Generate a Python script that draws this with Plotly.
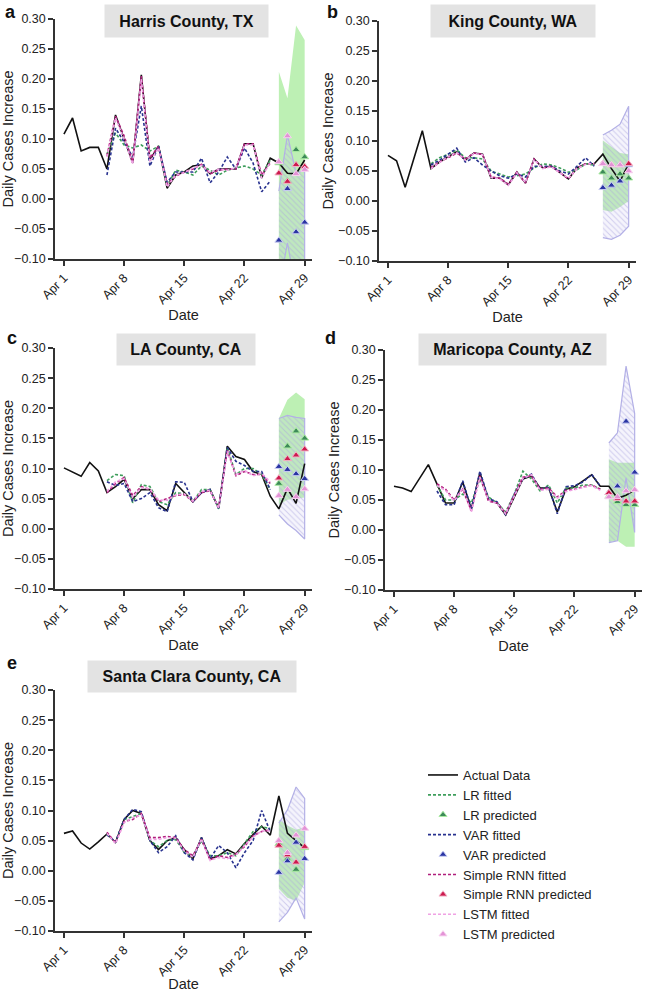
import pandas as pd
import plotly.graph_objects as go

# ---------------- data ----------------
dates = [f"2020-04-{d:02d}" for d in range(1, 30)]
fit_dates = dates[5:25]      # Apr 6 - Apr 25
pred_dates = dates[25:]      # Apr 26 - Apr 29

tick_vals = ["2020-04-01", "2020-04-08", "2020-04-15", "2020-04-22", "2020-04-29"]
tick_text = ["Apr 1", "Apr 8", "Apr 15", "Apr 22", "Apr 29"]
y_tick_vals = [-0.10, -0.05, 0.00, 0.05, 0.10, 0.15, 0.20, 0.25, 0.30]

panel_titles = ["Harris County, TX", "King County, WA", "LA County, CA",
                "Maricopa County, AZ", "Santa Clara County, CA"]
panel_letters = ["a", "b", "c", "d", "e"]

# Harris County, TX
harris_actual = [0.108, 0.135, 0.080, 0.086, 0.086, 0.050, 0.140, 0.100, 0.060, 0.207,
                 0.065, 0.088, 0.018, 0.040, 0.045, 0.055, 0.057, 0.042, 0.050, 0.050,
                 0.050, 0.092, 0.092, 0.035, 0.068, 0.060, 0.043, 0.042, 0.065]
harris_lr_fit = [0.075, 0.110, 0.090, 0.085, 0.090, 0.080, 0.088, 0.022, 0.048, 0.045,
                 0.040, 0.055, 0.048, 0.040, 0.048, 0.052, 0.055, 0.050, 0.040, 0.065]
harris_var_fit = [0.040, 0.118, 0.095, 0.070, 0.155, 0.055, 0.088, 0.028, 0.045, 0.045,
                  0.045, 0.068, 0.027, 0.045, 0.070, 0.050, 0.085, 0.060, 0.012, 0.030]
harris_rnn_fit = [0.072, 0.138, 0.105, 0.062, 0.205, 0.068, 0.088, 0.025, 0.038, 0.045,
                  0.050, 0.058, 0.042, 0.048, 0.050, 0.050, 0.092, 0.092, 0.040, 0.060]
harris_lstm_fit = [0.070, 0.135, 0.100, 0.058, 0.200, 0.062, 0.085, 0.020, 0.040, 0.044,
                   0.052, 0.056, 0.044, 0.050, 0.048, 0.052, 0.090, 0.090, 0.035, 0.062]
harris_lr_pred = [0.060, 0.030, 0.082, 0.070]
harris_var_pred = [-0.069, 0.017, -0.055, -0.039]
harris_rnn_pred = [0.043, 0.029, 0.057, 0.054]
harris_lstm_pred = [0.062, 0.105, 0.042, 0.049]
harris_lr_upper = [0.212, 0.168, 0.289, 0.265]
harris_lr_lower = [-0.130, -0.150, -0.130, -0.140]
harris_var_upper = [0.013, 0.107, 0.043, 0.048]
harris_var_lower = [-0.151, -0.073, -0.153, -0.126]

# King County, WA
king_actual = [0.076, 0.067, 0.023, 0.070, 0.117, 0.054, 0.065, 0.074, 0.082, 0.068,
               0.080, 0.078, 0.038, 0.038, 0.027, 0.048, 0.030, 0.070, 0.055, 0.058,
               0.047, 0.037, 0.055, 0.062, 0.062, 0.078, 0.054, 0.033, 0.062]
king_lr_fit = [0.062, 0.072, 0.078, 0.085, 0.072, 0.072, 0.070, 0.050, 0.045, 0.040,
               0.042, 0.045, 0.055, 0.062, 0.060, 0.055, 0.048, 0.052, 0.062, 0.060]
king_var_fit = [0.060, 0.068, 0.078, 0.088, 0.065, 0.072, 0.060, 0.050, 0.042, 0.038,
                0.045, 0.040, 0.058, 0.058, 0.058, 0.050, 0.045, 0.058, 0.072, 0.058]
king_rnn_fit = [0.056, 0.065, 0.072, 0.080, 0.070, 0.080, 0.078, 0.040, 0.038, 0.028,
                0.048, 0.030, 0.070, 0.055, 0.058, 0.048, 0.037, 0.055, 0.062, 0.062]
king_lstm_fit = [0.054, 0.064, 0.074, 0.081, 0.068, 0.079, 0.077, 0.039, 0.037, 0.026,
                 0.047, 0.031, 0.069, 0.054, 0.057, 0.047, 0.038, 0.054, 0.061, 0.063]
king_lr_pred = [0.048, 0.038, 0.045, 0.038]
king_var_pred = [0.022, 0.026, 0.033, 0.060]
king_rnn_pred = [0.062, 0.060, 0.060, 0.062]
king_lstm_pred = [0.062, 0.060, 0.060, 0.050]
king_lr_upper = [0.101, 0.090, 0.080, 0.078]
king_lr_lower = [-0.015, -0.018, -0.010, 0.000]
king_var_upper = [0.110, 0.118, 0.128, 0.158]
king_var_lower = [-0.061, -0.064, -0.057, -0.042]

# LA County, CA
la_actual = [0.101, 0.094, 0.087, 0.110, 0.096, 0.060, 0.070, 0.082, 0.050, 0.065,
             0.065, 0.040, 0.030, 0.075, 0.060, 0.045, 0.060, 0.065, 0.034, 0.137,
             0.120, 0.115, 0.095, 0.090, 0.054, 0.033, 0.067, 0.042, 0.108]
la_lr_fit = [0.080, 0.090, 0.088, 0.043, 0.073, 0.070, 0.045, 0.040, 0.060, 0.058,
             0.045, 0.065, 0.065, 0.033, 0.135, 0.090, 0.100, 0.100, 0.090, 0.065]
la_var_fit = [0.078, 0.072, 0.075, 0.045, 0.050, 0.060, 0.035, 0.028, 0.078, 0.077,
              0.045, 0.060, 0.065, 0.033, 0.135, 0.112, 0.105, 0.095, 0.095, 0.065]
la_rnn_fit = [0.060, 0.075, 0.085, 0.055, 0.070, 0.065, 0.045, 0.050, 0.055, 0.057,
              0.045, 0.060, 0.063, 0.035, 0.130, 0.088, 0.095, 0.090, 0.090, 0.075]
la_lstm_fit = [0.062, 0.078, 0.083, 0.052, 0.068, 0.066, 0.048, 0.047, 0.056, 0.058,
               0.046, 0.062, 0.064, 0.034, 0.128, 0.090, 0.097, 0.088, 0.092, 0.078]
la_lr_pred = [0.075, 0.137, 0.162, 0.150]
la_var_pred = [0.103, 0.098, 0.091, 0.083]
la_rnn_pred = [0.084, 0.116, 0.122, 0.132]
la_lstm_pred = [0.055, 0.065, 0.053, 0.066]
la_lr_upper = [0.183, 0.214, 0.226, 0.215]
la_lr_lower = [0.040, 0.048, 0.050, 0.052]
la_var_upper = [0.183, 0.188, 0.185, 0.183]
la_var_lower = [0.023, 0.008, -0.003, -0.017]

# Maricopa County, AZ
maricopa_actual = [0.073, 0.070, 0.064, 0.087, 0.109, 0.077, 0.045, 0.045, 0.080, 0.035,
                   0.095, 0.050, 0.045, 0.025, 0.055, 0.085, 0.090, 0.070, 0.070, 0.030,
                   0.068, 0.072, 0.082, 0.092, 0.073, 0.073, 0.053, 0.058, 0.067]
maricopa_lr_fit = [0.075, 0.050, 0.050, 0.060, 0.045, 0.085, 0.055, 0.045, 0.030, 0.060,
                   0.098, 0.085, 0.065, 0.075, 0.045, 0.070, 0.070, 0.075, 0.075, 0.068]
maricopa_var_fit = [0.065, 0.042, 0.042, 0.082, 0.035, 0.098, 0.052, 0.047, 0.025, 0.060,
                    0.085, 0.093, 0.068, 0.072, 0.027, 0.072, 0.074, 0.080, 0.093, 0.073]
maricopa_rnn_fit = [0.077, 0.068, 0.050, 0.068, 0.032, 0.090, 0.048, 0.045, 0.028, 0.058,
                    0.088, 0.090, 0.068, 0.070, 0.055, 0.066, 0.068, 0.072, 0.075, 0.068]
maricopa_lstm_fit = [0.074, 0.066, 0.048, 0.070, 0.030, 0.088, 0.050, 0.044, 0.027, 0.057,
                     0.086, 0.092, 0.066, 0.068, 0.053, 0.064, 0.067, 0.070, 0.074, 0.066]
maricopa_lr_pred = [0.056, 0.047, 0.042, 0.042]
maricopa_var_pred = [0.062, 0.073, 0.181, 0.096]
maricopa_rnn_pred = [0.062, 0.052, 0.048, 0.048]
maricopa_lstm_pred = [0.055, 0.055, 0.065, 0.067]
maricopa_lr_upper = [0.118, 0.112, 0.112, 0.112]
maricopa_lr_lower = [-0.020, -0.018, -0.028, -0.028]
maricopa_var_upper = [0.145, 0.162, 0.273, 0.194]
maricopa_var_lower = [-0.021, -0.018, 0.087, -0.004]

# Santa Clara County, CA
santaclara_actual = [0.062, 0.066, 0.046, 0.036, 0.048, 0.061, 0.047, 0.085, 0.100, 0.095,
                     0.050, 0.035, 0.050, 0.055, 0.035, 0.020, 0.055, 0.020, 0.025, 0.035,
                     0.028, 0.045, 0.060, 0.074, 0.059, 0.124, 0.062, 0.050, 0.038]
santaclara_lr_fit = [0.060, 0.048, 0.085, 0.090, 0.095, 0.050, 0.040, 0.050, 0.052, 0.030,
                     0.025, 0.050, 0.025, 0.025, 0.030, 0.025, 0.045, 0.065, 0.073, 0.070]
santaclara_var_fit = [0.060, 0.048, 0.085, 0.102, 0.098, 0.050, 0.030, 0.040, 0.058, 0.030,
                      0.018, 0.055, 0.020, 0.042, 0.030, 0.005, 0.030, 0.050, 0.100, 0.065]
santaclara_rnn_fit = [0.064, 0.046, 0.082, 0.085, 0.095, 0.055, 0.055, 0.057, 0.055, 0.035,
                      0.025, 0.052, 0.018, 0.025, 0.022, 0.028, 0.040, 0.058, 0.065, 0.068]
santaclara_lstm_fit = [0.062, 0.045, 0.080, 0.088, 0.093, 0.052, 0.052, 0.055, 0.054, 0.033,
                       0.022, 0.053, 0.017, 0.022, 0.020, 0.026, 0.042, 0.056, 0.066, 0.066]
santaclara_lr_pred = [0.045, 0.020, 0.002, 0.038]
santaclara_var_pred = [-0.003, 0.016, 0.047, 0.020]
santaclara_rnn_pred = [0.042, 0.026, 0.014, 0.040]
santaclara_lstm_pred = [0.050, 0.030, 0.059, 0.070]
santaclara_lr_upper = [0.085, 0.075, 0.068, 0.072]
santaclara_lr_lower = [-0.030, -0.045, -0.050, -0.020]
santaclara_var_upper = [0.079, 0.101, 0.139, 0.120]
santaclara_var_lower = [-0.085, -0.069, -0.045, -0.080]

counties = [
    dict(actual=harris_actual, lr_fit=harris_lr_fit, var_fit=harris_var_fit,
         rnn_fit=harris_rnn_fit, lstm_fit=harris_lstm_fit, lr_pred=harris_lr_pred,
         var_pred=harris_var_pred, rnn_pred=harris_rnn_pred, lstm_pred=harris_lstm_pred,
         lr_up=harris_lr_upper, lr_lo=harris_lr_lower, var_up=harris_var_upper, var_lo=harris_var_lower),
    dict(actual=king_actual, lr_fit=king_lr_fit, var_fit=king_var_fit,
         rnn_fit=king_rnn_fit, lstm_fit=king_lstm_fit, lr_pred=king_lr_pred,
         var_pred=king_var_pred, rnn_pred=king_rnn_pred, lstm_pred=king_lstm_pred,
         lr_up=king_lr_upper, lr_lo=king_lr_lower, var_up=king_var_upper, var_lo=king_var_lower),
    dict(actual=la_actual, lr_fit=la_lr_fit, var_fit=la_var_fit,
         rnn_fit=la_rnn_fit, lstm_fit=la_lstm_fit, lr_pred=la_lr_pred,
         var_pred=la_var_pred, rnn_pred=la_rnn_pred, lstm_pred=la_lstm_pred,
         lr_up=la_lr_upper, lr_lo=la_lr_lower, var_up=la_var_upper, var_lo=la_var_lower),
    dict(actual=maricopa_actual, lr_fit=maricopa_lr_fit, var_fit=maricopa_var_fit,
         rnn_fit=maricopa_rnn_fit, lstm_fit=maricopa_lstm_fit, lr_pred=maricopa_lr_pred,
         var_pred=maricopa_var_pred, rnn_pred=maricopa_rnn_pred, lstm_pred=maricopa_lstm_pred,
         lr_up=maricopa_lr_upper, lr_lo=maricopa_lr_lower, var_up=maricopa_var_upper, var_lo=maricopa_var_lower),
    dict(actual=santaclara_actual, lr_fit=santaclara_lr_fit, var_fit=santaclara_var_fit,
         rnn_fit=santaclara_rnn_fit, lstm_fit=santaclara_lstm_fit, lr_pred=santaclara_lr_pred,
         var_pred=santaclara_var_pred, rnn_pred=santaclara_rnn_pred, lstm_pred=santaclara_lstm_pred,
         lr_up=santaclara_lr_upper, lr_lo=santaclara_lr_lower, var_up=santaclara_var_upper, var_lo=santaclara_var_lower),
]

# ---------------- layout geometry (pixels) ----------------
W, H = 648, 992
# (left, right, top, bottom) of each plot area
panel_px = [(55, 312, 19, 259), (379, 636, 21, 261), (55, 312, 348, 589),
            (385, 642, 350, 590), (55, 312, 690, 931)]
# title boxes: (center x, center y, width, height)
title_box_px = [(186, 21, 163, 32), (513, 21, 164, 32), (186, 349, 138, 31),
                (512, 349, 187, 31), (192, 676, 208, 31)]
letter_px = [(10, 12), (332, 12), (12, 338), (330, 338), (12, 663)]

FONT = "Arial, 'Liberation Sans', Helvetica, sans-serif"
C_ACTUAL = "#111111"
C_LR = "#3f9e5c"
C_LR_PT = "#3e8a5a"
C_VAR = "#28328f"
C_VAR_PT = "#2a35a3"
C_RNN = "#b01f7c"
C_RNN_PT = "#cc1a4e"
C_LSTM = "#f0a2e4"
C_LSTM_PT = "#e393d6"

x_start = pd.Timestamp("2020-04-01") - pd.Timedelta(hours=25)
x_end = pd.Timestamp("2020-04-29") + pd.Timedelta(hours=20.5)

fig = go.Figure()

series_style = [
    ("LR fitted", "lr_fit", C_LR, 2),
    ("VAR fitted", "var_fit", C_VAR, 4),
    ("Simple RNN fitted", "rnn_fit", C_RNN, 6),
    ("LSTM fitted", "lstm_fit", C_LSTM, 8),
]
pred_style = [
    ("LR predicted", "lr_pred", C_LR_PT, "#a8eaa0", 3),
    ("VAR predicted", "var_pred", C_VAR_PT, "#c9cdf2", 5),
    ("Simple RNN predicted", "rnn_pred", C_RNN_PT, "#f3b3c6", 7),
    ("LSTM predicted", "lstm_pred", C_LSTM_PT, "#f8d2f0", 9),
]

for i, c in enumerate(counties):
    n = i + 1
    xa = "x" if n == 1 else f"x{n}"
    ya = "y" if n == 1 else f"y{n}"
    first = (i == 0)
    # LR band (solid green)
    fig.add_trace(go.Scatter(
        x=pred_dates + pred_dates[::-1], y=c["lr_up"] + c["lr_lo"][::-1],
        fill="toself", fillcolor="#bdf0b4", line=dict(width=0),
        mode="lines", hoverinfo="skip", showlegend=False, xaxis=xa, yaxis=ya))
    # VAR band (hatched lavender)
    fig.add_trace(go.Scatter(
        x=pred_dates + pred_dates[::-1], y=c["var_up"] + c["var_lo"][::-1],
        fill="toself", fillcolor="rgba(200,195,240,0.18)",
        fillpattern=dict(shape="\\", fgcolor="#aaa4df", size=4, solidity=0.25, fillmode="overlay"),
        line=dict(width=1.2, color="#b3b0e6"),
        mode="lines", hoverinfo="skip", showlegend=False, xaxis=xa, yaxis=ya))
    # actual data
    fig.add_trace(go.Scatter(
        x=dates, y=c["actual"], mode="lines", name="Actual Data",
        line=dict(color=C_ACTUAL, width=1.6), legendgroup="actual",
        legendrank=1, showlegend=first, xaxis=xa, yaxis=ya))
    for name, key, col, rank in series_style:
        fig.add_trace(go.Scatter(
            x=fit_dates, y=c[key], mode="lines", name=name,
            line=dict(color=col, width=1.6, dash="3px,2px"), legendgroup=key,
            legendrank=rank, showlegend=first, xaxis=xa, yaxis=ya))
    for name, key, col, halo, rank in pred_style:
        fig.add_trace(go.Scatter(
            x=pred_dates, y=c[key], mode="markers", name=name,
            marker=dict(symbol="triangle-up", size=7, color=col,
                        line=dict(color=halo, width=1)),
            legendgroup=key, legendrank=rank, showlegend=first, xaxis=xa, yaxis=ya))

layout = dict(
    width=W, height=H, margin=dict(l=0, r=0, t=0, b=0, autoexpand=False),
    paper_bgcolor="white", plot_bgcolor="white",
    font=dict(family=FONT, size=12, color="#222222"),
    showlegend=True,
    legend=dict(x=423 / W, y=1 - 760 / H, xanchor="left", yanchor="top",
                font=dict(size=13, family=FONT, color="#222222"),
                bgcolor="rgba(0,0,0,0)", traceorder="normal"),
)

annotations = []
for i, (l, r, t, b) in enumerate(panel_px):
    n = i + 1
    xk = "xaxis" if n == 1 else f"xaxis{n}"
    yk = "yaxis" if n == 1 else f"yaxis{n}"
    ya = "y" if n == 1 else f"y{n}"
    xa = "x" if n == 1 else f"x{n}"
    layout[xk] = dict(
        domain=[l / W, r / W], anchor=ya, type="date", automargin=False,
        range=[x_start, x_end], tickvals=tick_vals, ticktext=tick_text,
        tickangle=-45, ticks="outside", ticklen=5, tickwidth=1.5, tickcolor="#333333",
        showline=True, linecolor="#333333", linewidth=1.5, showgrid=False, zeroline=False,
        tickfont=dict(size=12.5, family=FONT, color="#222222"),
        title=dict(text="Date", font=dict(size=14.5, family=FONT, color="#222222"), standoff=2),
    )
    layout[yk] = dict(
        domain=[1 - b / H, 1 - t / H], anchor=xa, automargin=False,
        range=[-0.10, 0.30], tickvals=y_tick_vals, tickformat=".2f",
        ticks="outside", ticklen=5, tickwidth=1.5, tickcolor="#333333",
        showline=True, linecolor="#333333", linewidth=1.5, showgrid=False, zeroline=False,
        tickfont=dict(size=12.5, family=FONT, color="#222222"),
        title=dict(text="Daily Cases Increase", font=dict(size=14.5, family=FONT, color="#222222"), standoff=1),
    )
    cx, cy, bw, bh = title_box_px[i]
    annotations.append(dict(
        x=cx / W, y=1 - cy / H, xref="paper", yref="paper", showarrow=False,
        text=f"<b>{panel_titles[i]}</b>", width=bw, height=bh, bgcolor="#e3e3e3",
        borderpad=0, font=dict(size=16, family=FONT, color="#111111"),
        xanchor="center", yanchor="middle"))
    lx, ly = letter_px[i]
    annotations.append(dict(
        x=lx / W, y=1 - ly / H, xref="paper", yref="paper", showarrow=False,
        text=f"<b>{panel_letters[i]}</b>", font=dict(size=18, family=FONT, color="#111111"),
        xanchor="center", yanchor="middle"))

layout["annotations"] = annotations
fig.update_layout(**layout)
fig.write_html(
    "out.html",
    config={"displayModeBar": False},
    post_script="document.body.style.margin='0';document.body.style.padding='0';"
                "document.body.style.overflow='hidden';",
)
